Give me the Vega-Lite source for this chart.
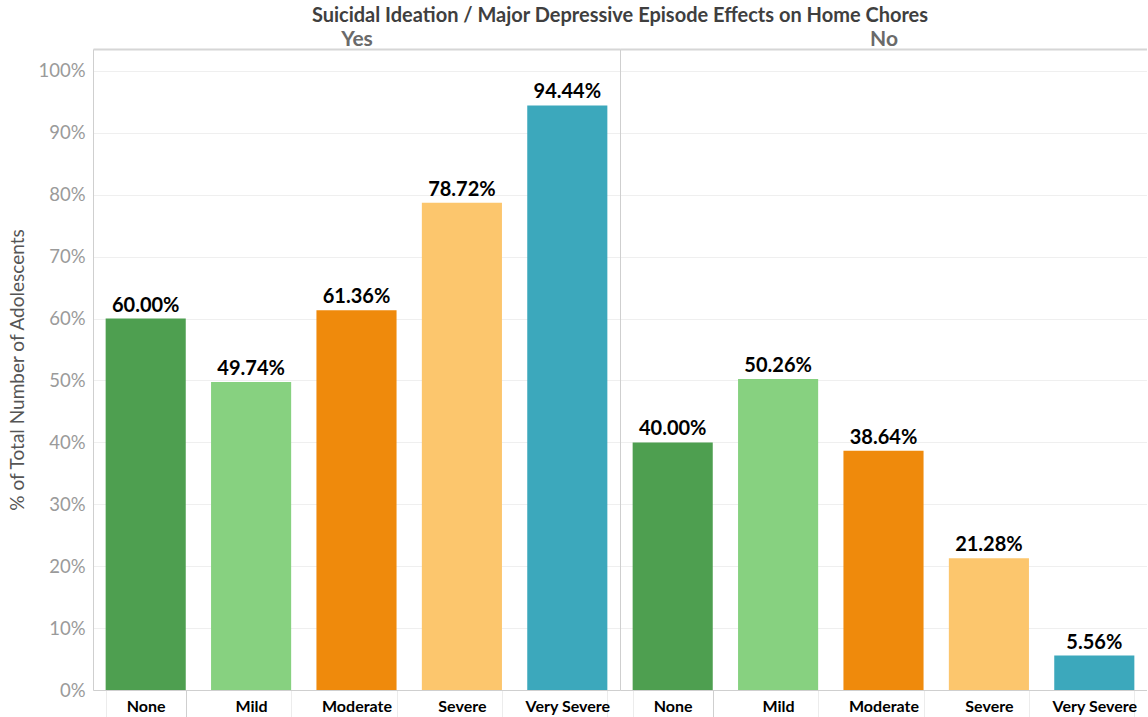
{
  "$schema": "https://vega.github.io/schema/vega-lite/v6.json",
  "padding": {"left": 8, "top": 6, "right": 0, "bottom": 0},
  "background": "white",
  "config": {"font": "Lato", "view": {"stroke": null}},
  "title": {"text": "Suicidal Ideation  /  Major Depressive Episode Effects on  Home Chores", "fontSize": 20, "fontWeight": "bold", "color": "#3f3f3f", "anchor": "middle", "dx": 42, "offset": 2},
  "datasets": {
    "d": [
      {"group": "Yes", "severity": "None", "pct": 0.6},
      {"group": "Yes", "severity": "Mild", "pct": 0.4974},
      {"group": "Yes", "severity": "Moderate", "pct": 0.6136},
      {"group": "Yes", "severity": "Severe", "pct": 0.7872},
      {"group": "Yes", "severity": "Very Severe", "pct": 0.9444},
      {"group": "No", "severity": "None", "pct": 0.4},
      {"group": "No", "severity": "Mild", "pct": 0.5026},
      {"group": "No", "severity": "Moderate", "pct": 0.3864},
      {"group": "No", "severity": "Severe", "pct": 0.2128},
      {"group": "No", "severity": "Very Severe", "pct": 0.0556}
    ]
  },
  "spacing": 0,
  "hconcat": [
    {
      "width": 527,
      "height": 641,
      "data": {"name": "d"},
      "transform": [{"filter": "datum.group === 'Yes'"}],
      "layer": [
        {
          "mark": {"type": "bar"},
          "encoding": {
            "x": {"field": "severity", "type": "nominal", "sort": ["None", "Mild", "Moderate", "Severe", "Very Severe"], "scale": {"paddingInner": 0.24, "paddingOuter": 0.12},
              "axis": {"orient": "bottom", "title": null, "labelAngle": 0, "labelFontSize": 16, "labelFontWeight": "bold", "labelColor": "#000000", "domainColor": "#cfcfcf", "tickBand": "extent", "tickSize": 27, "tickColor": {"condition": {"test": "datum.value === 'None'", "value": "#cfcfcf"}, "value": "#ececec"}, "labelPadding": -19, "labelBaseline": "top"}},
            "y": {"field": "pct", "type": "quantitative", "scale": {"domain": [0, 1.0355], "nice": false},
              "axis": {"title": "% of Total Number of Adolescents", "titleFontSize": 19, "titleFontWeight": "normal", "titleColor": "#555555", "titlePadding": 10, "format": ".0%", "values": [0, 0.1, 0.2, 0.3, 0.4, 0.5, 0.6, 0.7, 0.8, 0.9, 1.0], "labelFontSize": 18.5, "labelColor": "#9a9a9a", "labelPadding": 8, "ticks": false, "domainColor": "#cfcfcf", "gridColor": "#efefef"}},
            "color": {"field": "severity", "type": "nominal", "scale": {"domain": ["None", "Mild", "Moderate", "Severe", "Very Severe"], "range": ["#4E9F50", "#87D180", "#EF8A0C", "#FCC66D", "#3CA8BC"]}, "legend": null}
          }
        },
        {
          "mark": {"type": "text", "baseline": "alphabetic", "dy": -7, "fontSize": 20, "fontWeight": "bold", "color": "#000000"},
          "encoding": {
            "x": {"field": "severity", "type": "nominal", "sort": ["None", "Mild", "Moderate", "Severe", "Very Severe"], "scale": {"paddingInner": 0.24, "paddingOuter": 0.12},
              "axis": {"orient": "top", "title": "Yes", "titleFontSize": 21, "titleFontWeight": "bold", "titleColor": "#6a6a6a", "titlePadding": 0, "labels": false, "ticks": false, "domainColor": "#d6d6d6", "domainWidth": 2}},
            "y": {"field": "pct", "type": "quantitative"},
            "text": {"field": "pct", "type": "quantitative", "format": ".2%"}
          }
        }
      ]
    },
    {
      "width": 527,
      "height": 641,
      "data": {"name": "d"},
      "transform": [{"filter": "datum.group === 'No'"}],
      "layer": [
        {
          "mark": {"type": "bar"},
          "encoding": {
            "x": {"field": "severity", "type": "nominal", "sort": ["None", "Mild", "Moderate", "Severe", "Very Severe"], "scale": {"paddingInner": 0.24, "paddingOuter": 0.12},
              "axis": {"orient": "bottom", "title": null, "labelAngle": 0, "labelFontSize": 16, "labelFontWeight": "bold", "labelColor": "#000000", "domainColor": "#cfcfcf", "tickBand": "extent", "tickSize": 27, "tickColor": {"condition": {"test": "datum.value === 'None'", "value": "#cfcfcf"}, "value": "#ececec"}, "labelPadding": -19, "labelBaseline": "top"}},
            "y": {"field": "pct", "type": "quantitative", "scale": {"domain": [0, 1.0355], "nice": false},
              "axis": {"title": null, "labels": false, "ticks": false, "values": [0, 0.1, 0.2, 0.3, 0.4, 0.5, 0.6, 0.7, 0.8, 0.9, 1.0], "domainColor": "#cfcfcf", "gridColor": "#efefef"}},
            "color": {"field": "severity", "type": "nominal", "scale": {"domain": ["None", "Mild", "Moderate", "Severe", "Very Severe"], "range": ["#4E9F50", "#87D180", "#EF8A0C", "#FCC66D", "#3CA8BC"]}, "legend": null}
          }
        },
        {
          "mark": {"type": "text", "baseline": "alphabetic", "dy": -7, "fontSize": 20, "fontWeight": "bold", "color": "#000000"},
          "encoding": {
            "x": {"field": "severity", "type": "nominal", "sort": ["None", "Mild", "Moderate", "Severe", "Very Severe"], "scale": {"paddingInner": 0.24, "paddingOuter": 0.12},
              "axis": {"orient": "top", "title": "No", "titleFontSize": 21, "titleFontWeight": "bold", "titleColor": "#6a6a6a", "titlePadding": 0, "labels": false, "ticks": false, "domainColor": "#d6d6d6", "domainWidth": 2}},
            "y": {"field": "pct", "type": "quantitative"},
            "text": {"field": "pct", "type": "quantitative", "format": ".2%"}
          }
        }
      ]
    }
  ]
}
